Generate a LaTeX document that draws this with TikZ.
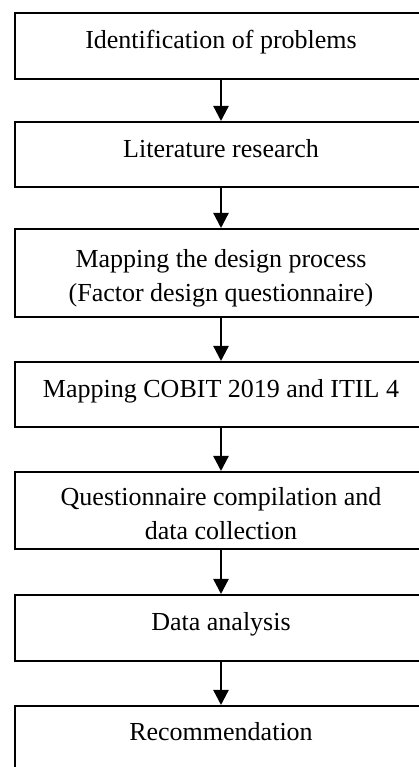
\documentclass[tikz,border=0pt]{standalone}
\usepackage{fontspec}
\setmainfont{Liberation Serif}
\usetikzlibrary{arrows.meta}
\begin{document}
\begin{tikzpicture}[x=1pt,y=1pt,
  stepbox/.style={draw, line width=2pt, minimum width=412pt, inner sep=0pt,
    align=center, font=\fontsize{26}{34}\selectfont},
  oneline/.style={text height=18pt, text depth=12pt},
  flow/.style={line width=2.3pt, -{Triangle[length=15pt,width=15pt]}}]
\useasboundingbox (0,0) rectangle (419,767);
\clip (0,0) rectangle (419,767);
\node[stepbox, oneline, minimum height=66pt] (b1) at (221,721) {Identification of problems};
\node[stepbox, oneline, minimum height=65pt] (b2) at (221,612.5) {Literature research};
\node[stepbox, minimum height=88pt] (b3) at (221,494) {\rule{0pt}{29pt}Mapping the design process\\(Factor design questionnaire)};
\node[stepbox, oneline, minimum height=65pt] (b4) at (221,372.5) {Mapping COBIT 2019 and ITIL 4};
\node[stepbox, minimum height=77pt] (b5) at (221,256.5) {\rule{0pt}{30.4pt}Questionnaire compilation and\\data collection\rule[-6pt]{0pt}{6pt}};
\node[stepbox, oneline, minimum height=66pt] (b6) at (221,139) {Data analysis};
\node[stepbox, oneline, minimum height=63pt] (b7) at (221,29.5) {Recommendation};
\draw[flow] (b1) -- (b2);
\draw[flow] (b2) -- (b3);
\draw[flow] (b3) -- (b4);
\draw[flow] (b4) -- (b5);
\draw[flow] (b5) -- (b6);
\draw[flow] (b6) -- (b7);
\end{tikzpicture}
\end{document}
